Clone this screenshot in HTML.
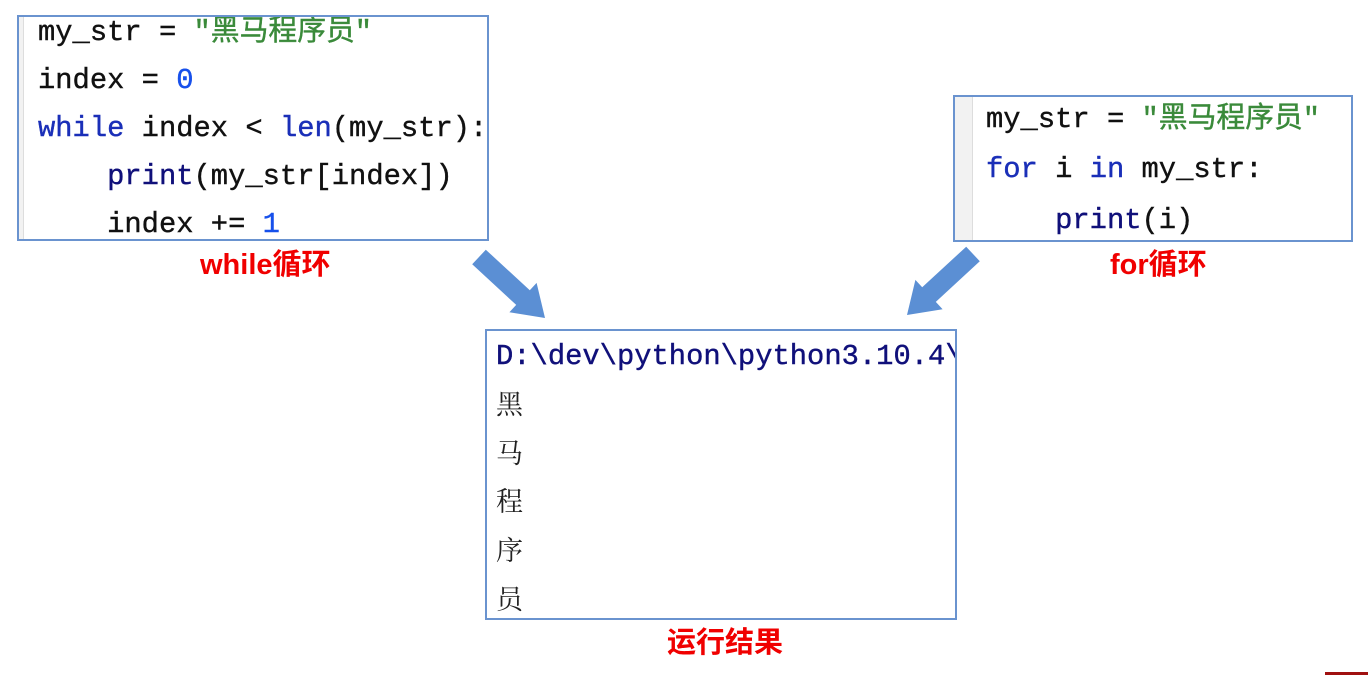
<!DOCTYPE html>
<html><head><meta charset="utf-8"><style>
body{margin:0;width:1368px;height:675px;background:#fff;position:relative;overflow:hidden}
.box{position:absolute;border:2px solid #6a93cf;background:#fff;overflow:hidden;box-sizing:border-box}
.l{position:absolute;white-space:pre;font-family:"Liberation Mono","Noto Sans CJK SC",monospace;font-size:28.8px;color:#111;line-height:34px;-webkit-text-stroke:0.4px currentColor}
.k{color:#1a2fb8}.n{color:#1750eb}.s{color:#3a8a3a}.f{color:#10107a}
.lab{position:absolute;color:#f00000;font-family:"Liberation Sans","Noto Sans CJK SC",sans-serif;font-weight:bold;font-size:29px;line-height:34px;white-space:nowrap}
.o{position:absolute;font-family:"Noto Serif CJK SC","Noto Sans CJK SC",serif;font-size:27px;color:#222;line-height:30px}
</style></head><body>
<div class="box" style="left:17px;top:15px;width:472px;height:226px">
<div style="position:absolute;left:0;top:0;width:4px;height:226px;border-right:1px solid #ddd;background:#f2f2f2"></div>
<div class="l" style="left:19px;top:-1px">my_str = <span class="s">"黑马程序员"</span></div>
<div class="l" style="left:19px;top:47px">index = <span class="n">0</span></div>
<div class="l" style="left:19px;top:95px"><span class="k">while</span> index &lt; <span class="k">len</span>(my_str):</div>
<div class="l" style="left:19px;top:143px">    <span class="f">print</span>(my_str[index])</div>
<div class="l" style="left:19px;top:191px">    index += <span class="n">1</span></div>
</div>
<div class="lab" style="left:200px;top:248px">while循环</div>

<div class="box" style="left:953px;top:95px;width:400px;height:147px">
<div style="position:absolute;left:0;top:0;width:17px;height:147px;border-right:1px solid #ddd;background:#f2f2f2"></div>
<div class="l" style="left:31px;top:6px">my_str = <span class="s">"黑马程序员"</span></div>
<div class="l" style="left:31px;top:56px"><span class="k">for</span> i <span class="k">in</span> my_str:</div>
<div class="l" style="left:31px;top:107px">    <span class="f">print</span>(i)</div>
</div>
<div class="lab" style="left:1110px;top:248px">for循环</div>

<svg style="position:absolute;left:0;top:0" width="1368" height="675">
<polygon points="485.8,249.7 529.8,290.3 536.6,282.9 545,318 509.4,312.3 516.2,304.9 472.2,264.3" fill="#5b8fd4"/>
<polygon points="966.2,246.7 922.2,287.3 915.4,279.9 907,315 942.6,309.3 935.8,301.9 979.8,261.3" fill="#5b8fd4"/>
<rect x="1325" y="672" width="43" height="3" fill="#a01010"/>
</svg>

<div class="box" style="left:485px;top:329px;width:472px;height:291px">
<div class="l" style="left:9px;top:9px;color:#10107a;font-size:28.8px">D:\dev\python\python3.10.4\</div>
<div class="o" style="left:9px;top:57px">黑</div>
<div class="o" style="left:9px;top:106px">马</div>
<div class="o" style="left:9px;top:154px">程</div>
<div class="o" style="left:9px;top:203px">序</div>
<div class="o" style="left:9px;top:252px">员</div>
</div>
<div class="lab" style="left:667px;top:626px">运行结果</div>
</body></html>
